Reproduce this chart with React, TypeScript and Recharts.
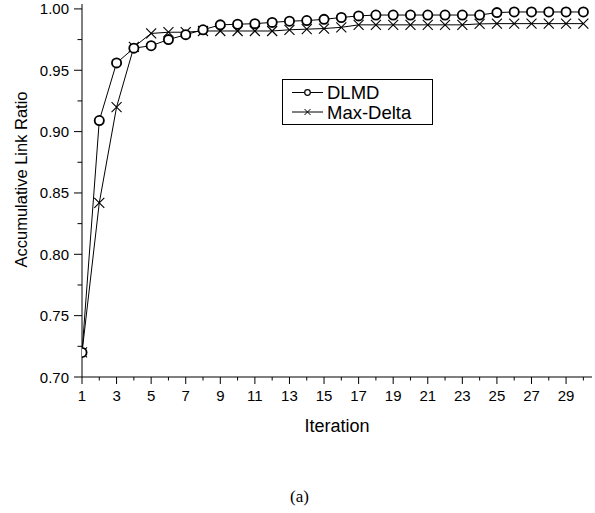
import React from 'react';
import { LineChart, Line, XAxis, YAxis, Legend } from 'recharts';

const iterations = [1,2,3,4,5,6,7,8,9,10,11,12,13,14,15,16,17,18,19,20,21,22,23,24,25,26,27,28,29,30];
const dlmd = [0.720, 0.909, 0.956, 0.968, 0.970, 0.975, 0.979, 0.983, 0.987, 0.9875, 0.988, 0.989, 0.990, 0.9905, 0.9915, 0.993, 0.9943, 0.995, 0.995, 0.995, 0.995, 0.995, 0.995, 0.995, 0.997, 0.9975, 0.9975, 0.9975, 0.9975, 0.9975];
const maxDelta = [0.720, 0.842, 0.920, 0.969, 0.980, 0.981, 0.981, 0.982, 0.982, 0.982, 0.982, 0.982, 0.983, 0.9835, 0.984, 0.985, 0.987, 0.987, 0.987, 0.987, 0.987, 0.987, 0.987, 0.9878, 0.988, 0.988, 0.988, 0.988, 0.988, 0.988];
const xTicks = iterations;
const yTicks = [0.70, 0.725, 0.75, 0.775, 0.80, 0.825, 0.85, 0.875, 0.90, 0.925, 0.95, 0.975, 1.00];
const seriesNames = ['DLMD', 'Max-Delta'];

const data = iterations.map((it, i) => ({ it, dlmd: dlmd[i], maxDelta: maxDelta[i] }));

const FONT = '"Liberation Sans", Arial, sans-serif';

const XTick = (props: any) => {
  const { x, y, payload } = props;
  const v = payload.value;
  const major = v % 2 === 1;
  return (
    <g>
      <line x1={x} x2={x} y1={y} y2={y + (major ? 7 : 3.5)} stroke="#000" strokeWidth={1} />
      {major && (
        <text x={x} y={y + 24} textAnchor="middle" fontSize={15} fontFamily={FONT} fill="#000">{v}</text>
      )}
    </g>
  );
};

const YTick = (props: any) => {
  const { x, y, payload } = props;
  const v = payload.value;
  const major = Math.abs(Math.round(v * 20) - v * 20) < 1e-6;
  return (
    <g>
      <line x1={x - (major ? 8 : 4.5)} x2={x} y1={y} y2={y} stroke="#000" strokeWidth={1} />
      {major && (
        <text x={x - 13} y={y + 5.5} textAnchor="end" fontSize={15} fontFamily={FONT} fill="#000">{v.toFixed(2)}</text>
      )}
    </g>
  );
};

const CircleDot = (props: any) => {
  const { cx, cy, index } = props;
  return <circle key={'c' + index} cx={cx} cy={cy} r={4.6} fill="#fff" stroke="#000" strokeWidth={1.8} />;
};

const CrossDot = (props: any) => {
  const { cx, cy, index } = props;
  const s = 5;
  return (
    <g key={'x' + index}>
      <line x1={cx - s} y1={cy - s} x2={cx + s} y2={cy + s} stroke="#000" strokeWidth={1.1} />
      <line x1={cx - s} y1={cy + s} x2={cx + s} y2={cy - s} stroke="#000" strokeWidth={1.1} />
    </g>
  );
};

const LegendContent = () => (
  <svg width={151} height={46} style={{ display: 'block' }}>
    <rect x={0.5} y={0.5} width={150} height={45} fill="#fff" stroke="#000" strokeWidth={1} />
    <line x1={10} x2={41} y1={13.5} y2={13.5} stroke="#000" strokeWidth={1} />
    <circle cx={25.5} cy={13.5} r={2.8} fill="#fff" stroke="#000" strokeWidth={1.2} />
    <text x={45} y={20} fontSize={18.5} fontFamily={FONT} fill="#000">{seriesNames[0]}</text>
    <line x1={10} x2={41} y1={33} y2={33} stroke="#000" strokeWidth={1} />
    <line x1={22.5} y1={30} x2={28.5} y2={36} stroke="#000" strokeWidth={1} />
    <line x1={22.5} y1={36} x2={28.5} y2={30} stroke="#000" strokeWidth={1} />
    <text x={45} y={39.5} fontSize={18.5} fontFamily={FONT} fill="#000">{seriesNames[1]}</text>
  </svg>
);

export default function App() {
  return (
    <div style={{ position: 'absolute', left: 0, top: 0, width: 595, height: 513, background: '#fff' }}>
      <LineChart width={595} height={513} data={data} margin={{ top: 4, right: 3, left: 0, bottom: 0 }}>
        <XAxis
          dataKey="it"
          type="number"
          domain={[1, 30.5]}
          allowDataOverflow
          ticks={xTicks}
          interval={0}
          tick={<XTick />}
          tickSize={0}
          tickMargin={0}
          tickLine={false}
          height={136}
          axisLine={{ stroke: '#000', strokeWidth: 1 }}
          label={(p: any) => {
            const vb = p.viewBox;
            return (
              <text x={vb.x + vb.width / 2} y={vb.y + 55} textAnchor="middle" fontSize={18} fontFamily={FONT} fill="#000">Iteration</text>
            );
          }}
        />
        <YAxis
          type="number"
          domain={[0.7, 1.004]}
          ticks={yTicks}
          interval={0}
          tick={<YTick />}
          tickSize={0}
          tickMargin={0}
          tickLine={false}
          width={82}
          axisLine={{ stroke: '#000', strokeWidth: 1 }}
          label={(p: any) => {
            const vb = p.viewBox;
            const cx = 21;
            const cy = vb.y + vb.height / 2 - 11;
            return (
              <text x={cx} y={cy} transform={`rotate(-90 ${cx} ${cy})`} textAnchor="middle" dominantBaseline="central" fontSize={16.5} fontFamily={FONT} fill="#000">Accumulative Link Ratio</text>
            );
          }}
        />
        <Legend layout="horizontal" verticalAlign="middle" align="center" content={<LegendContent />} wrapperStyle={{ position: 'absolute', left: 282, top: 79, width: 151, height: 46 }} />
        <Line dataKey="maxDelta" name={seriesNames[1]} stroke="#000" strokeWidth={1} dot={<CrossDot />} activeDot={false} isAnimationActive={false} type="linear" />
        <Line dataKey="dlmd" name={seriesNames[0]} stroke="#000" strokeWidth={1} dot={<CircleDot />} activeDot={false} isAnimationActive={false} type="linear" />
      </LineChart>
      <div style={{ position: 'absolute', left: 290, top: 487, fontFamily: '"Liberation Serif", "Times New Roman", serif', fontSize: 17, color: '#000' }}>
        (a)
      </div>
    </div>
  );
}
